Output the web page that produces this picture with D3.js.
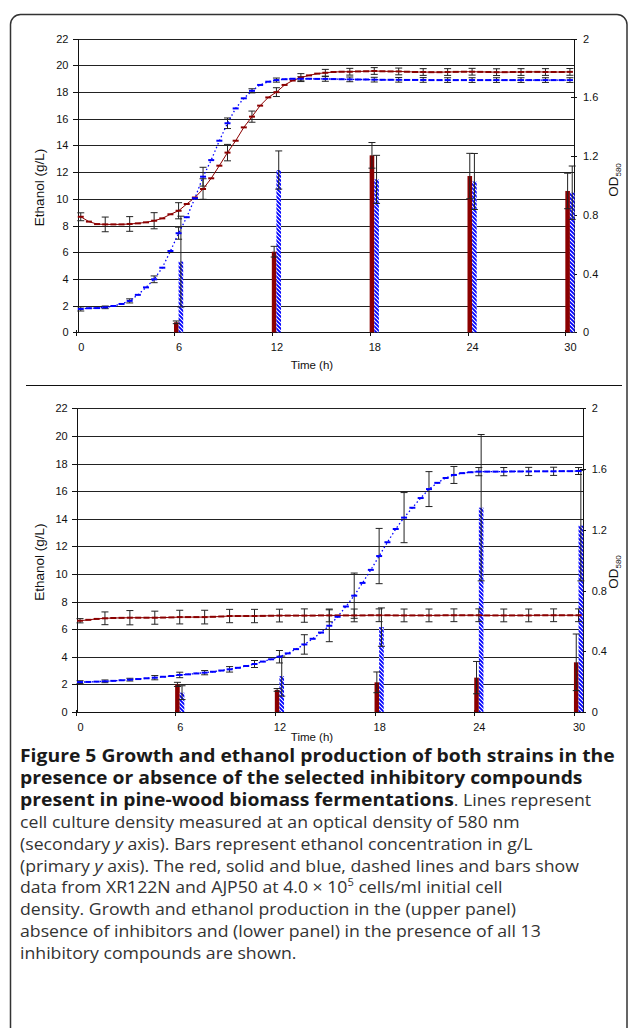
<!DOCTYPE html>
<meta charset="utf-8">
<style>
  body { margin: 0; background: #fff; }
  .axis text { font-family: "Liberation Sans", Arial, sans-serif; font-size: 11px; fill: #111; }
  .axis path, .axis line { stroke: #111; shape-rendering: crispEdges; }
  .grid line { stroke: #222; shape-rendering: crispEdges; }
  .grid path { display: none; }
  .title { font-family: "Liberation Sans", Arial, sans-serif; fill: #111; }
  .caption { font-family: "Open Sans", sans-serif; fill: #333; }
</style>

<svg id="fig" width="628" height="1028"></svg>

<script src="https://cdnjs.cloudflare.com/ajax/libs/d3/7.8.5/d3.min.js"></script>
<script>
  // sampling times of the OD curves (h)
  var hours = [0,0.5,1,1.5,2,2.5,3,3.5,4,4.5,5,5.5,6,6.5,7,7.5,8,8.5,9,9.5,10,10.5,11,11.5,12,12.5,13,13.5,14,14.5,
               15,15.5,16,16.5,17,17.5,18,18.5,19,19.5,20,20.5,21,21.5,22,22.5,23,23.5,24,24.5,25,25.5,26,26.5,27,27.5,
               28,28.5,29,29.5,30];
  // times carrying error bars on the OD curves
  var errHours = [0,1.5,3,4.5,6,7.5,9,10.5,12,13.5,15,16.5,18,19.5,21,22.5,24,25.5,27,28.5,30];
  // ethanol sampling times (h)
  var barHours = [6,12,18,24,30];
  var xTicks = [0,6,12,18,24,30];

  // upper panel: no inhibitors
  var upperRedOD = [0.787,0.754,0.737,0.735,0.735,0.735,0.738,0.742,0.749,0.760,0.776,0.804,0.828,0.874,0.918,0.976,
    1.049,1.135,1.224,1.305,1.396,1.469,1.544,1.600,1.636,1.685,1.715,1.735,1.750,1.762,1.768,1.773,1.775,1.775,1.777,
    1.778,1.780,1.778,1.777,1.777,1.775,1.773,1.773,1.772,1.772,1.773,1.774,1.775,1.775,1.774,1.773,1.772,1.772,1.773,
    1.773,1.774,1.774,1.773,1.773,1.773,1.774];
  var upperBlueOD = [0.159,0.164,0.165,0.170,0.179,0.193,0.214,0.255,0.306,0.361,0.440,0.554,0.675,0.784,0.913,1.060,
    1.173,1.305,1.424,1.525,1.594,1.645,1.685,1.707,1.718,1.724,1.727,1.727,1.727,1.726,1.726,1.725,1.724,1.723,1.722,
    1.722,1.721,1.720,1.720,1.720,1.719,1.719,1.719,1.718,1.718,1.718,1.718,1.718,1.718,1.718,1.718,1.718,1.718,1.718,
    1.718,1.718,1.718,1.718,1.718,1.718,1.718];
  var upperRedErr = [0.027,0.05,0.05,0.055,0.055,0.07,0.056,0.038,0.03,0.027,0.023,0.023,0.023,0.023,0.023,0.023,0.023,
    0.023,0.023,0.023,0.023];
  var upperBlueErr = [0.014,0.009,0.014,0.023,0.041,0.064,0.036,0.014,0.014,0.014,0.016,0.016,0.016,0.016,0.016,0.016,
    0.016,0.016,0.016,0.016,0.016];
  var upperRedEtoh = [0.75,6.04,13.26,11.71,10.59];
  var upperRedEtohErr = [0.1,0.4,0.96,1.7,1.33];
  var upperBlueEtoh = [5.3,12.16,11.46,11.3,10.46];
  var upperBlueEtohErr = [3.4,1.43,1.8,2.1,2.0];

  // lower panel: all 13 inhibitors
  var lowerRedOD = [0.601,0.607,0.613,0.617,0.619,0.620,0.621,0.621,0.621,0.621,0.622,0.623,0.625,0.625,0.625,0.625,
    0.627,0.629,0.632,0.632,0.632,0.632,0.633,0.634,0.635,0.635,0.635,0.635,0.635,0.636,0.636,0.636,0.636,0.636,0.636,
    0.637,0.637,0.637,0.636,0.636,0.636,0.636,0.636,0.636,0.637,0.637,0.637,0.637,0.637,0.636,0.636,0.636,0.636,0.636,
    0.636,0.637,0.637,0.637,0.637,0.637,0.637];
  var lowerBlueOD = [0.197,0.198,0.200,0.202,0.205,0.209,0.213,0.217,0.222,0.226,0.232,0.237,0.244,0.248,0.254,0.259,
    0.265,0.273,0.281,0.291,0.303,0.316,0.332,0.347,0.364,0.386,0.414,0.445,0.482,0.523,0.568,0.627,0.695,0.766,0.850,
    0.936,1.027,1.118,1.205,1.280,1.345,1.409,1.468,1.509,1.541,1.561,1.573,1.579,1.583,1.583,1.583,1.583,1.584,1.584,
    1.584,1.585,1.585,1.585,1.586,1.586,1.587];
  var lowerRedErr = [0.014,0.042,0.047,0.043,0.045,0.045,0.044,0.044,0.042,0.044,0.042,0.042,0.042,0.042,0.042,0.042,
    0.042,0.042,0.042,0.042,0.042];
  var lowerBlueErr = [0.009,0.009,0.009,0.014,0.018,0.014,0.018,0.023,0.041,0.064,0.105,0.149,0.182,0.165,0.115,0.056,
    0.027,0.027,0.027,0.027,0.023];
  var lowerRedEtoh = [2.0,1.6,2.15,2.49,3.6];
  var lowerRedEtohErr = [0.15,0.1,0.75,1.17,2.05];
  var lowerBlueEtoh = [1.4,2.6,6.15,14.8,13.5];
  var lowerBlueEtohErr = [0.5,1.45,1.39,5.3,4.0];

  var captionLines = [
    [["b","Figure 5 Growth and ethanol production of both strains in the"]],
    [["b","presence or absence of the selected inhibitory compounds"]],
    [["b","present in pine-wood biomass fermentations"],["n",". Lines represent"]],
    [["n","cell culture density measured at an optical density of 580 nm"]],
    [["n","(secondary "],["i","y"],["n"," axis). Bars represent ethanol concentration in g/L"]],
    [["n","(primary "],["i","y"],["n"," axis). The red, solid and blue, dashed lines and bars show"]],
    [["n","data from XR122N and AJP50 at 4.0 \u00d7 10"],["sup","5"],["n"," cells/ml initial cell"]],
    [["n","density. Growth and ethanol production in the (upper panel)"]],
    [["n","absence of inhibitors and (lower panel) in the presence of all 13"]],
    [["n","inhibitory compounds are shown."]]
  ];

  var RED = "#8b0000", BLUE = "#0000ff";
  var svg = d3.select("#fig");

  // hatch for the AJP50 bars
  var pat = svg.append("defs").append("pattern")
    .attr("id", "hatch").attr("patternUnits", "userSpaceOnUse")
    .attr("width", 4).attr("height", 4);
  pat.append("rect").attr("width", 4).attr("height", 4).attr("fill", "#fff");
  pat.append("path").attr("d", "M-1,-1L5,5M-1,3L1,5M3,-1L5,1")
    .attr("stroke", BLUE).attr("stroke-width", 1.8);

  // outer frame and separator
  svg.append("rect").attr("x", 10.5).attr("y", 14.5).attr("width", 616.5).attr("height", 1100)
    .attr("rx", 10).attr("fill", "none").attr("stroke", "#333").attr("stroke-width", 1.5);
  svg.append("line").attr("x1", 26).attr("x2", 622).attr("y1", 385.5).attr("y2", 385.5)
    .attr("stroke", "#111");

  function drawPanel(p) {
    var g = svg.append("g");
    var x = d3.scaleLinear().domain([-0.2, 30.25]).range([p.left, p.right]);
    var yL = d3.scaleLinear().domain([0, 22]).range([p.bottom, p.top]);
    var yR = d3.scaleLinear().domain([0, 2]).range([p.bottom, p.top]);
    var w = p.right - p.left;

    // gridlines
    g.append("g").attr("class", "grid")
      .attr("transform", "translate(" + p.left + ",0)")
      .call(d3.axisLeft(yL).tickValues(d3.range(2, 23, 2)).tickSize(-w).tickFormat(""));

    // left axis
    g.append("g").attr("class", "axis")
      .attr("transform", "translate(" + p.left + ",0)")
      .call(d3.axisLeft(yL).tickValues(d3.range(0, 23, 2)).tickSize(5).tickPadding(4).tickSizeOuter(0));

    // right axis, ticks crossing the line
    var ra = g.append("g").attr("class", "axis")
      .attr("transform", "translate(" + p.right + ",0)")
      .call(d3.axisRight(yR).tickValues([0, 0.4, 0.8, 1.2, 1.6, 2]).tickSize(3).tickPadding(6)
        .tickSizeOuter(0).tickFormat(d3.format("~g")));
    ra.selectAll(".tick line").attr("x1", -3);

    // bottom axis: labels at sampling times, tick marks at left edge of each bar pair
    var xa = g.append("g").attr("class", "axis")
      .attr("transform", "translate(0," + p.bottom + ")")
      .call(d3.axisBottom(x).tickValues(xTicks).tickSize(0).tickPadding(11).tickSizeOuter(0));
    xa.select(".domain").attr("d", "M" + p.left + ",0.5H" + p.right);
    xa.selectAll(".tick").append("line").attr("x1", -4.5).attr("x2", -4.5).attr("y1", -2).attr("y2", 4);

    // bars
    var bw = 4.6;
    g.selectAll(".rbar").data(barHours).enter().append("rect")
      .attr("x", function(d) { return x(d) - bw; })
      .attr("width", bw)
      .attr("y", function(d, i) { return yL(p.redEtoh[i]); })
      .attr("height", function(d, i) { return p.bottom - yL(p.redEtoh[i]); })
      .attr("fill", RED);
    g.selectAll(".bbar").data(barHours).enter().append("rect")
      .attr("x", function(d) { return x(d); })
      .attr("width", bw)
      .attr("y", function(d, i) { return yL(p.blueEtoh[i]); })
      .attr("height", function(d, i) { return p.bottom - yL(p.blueEtoh[i]); })
      .attr("fill", "url(#hatch)");

    function errBars(xs, ys, es, y) {
      var eg = g.append("g").attr("stroke", "#222").attr("stroke-width", 1);
      xs.forEach(function(xv, i) {
        var top = y(ys[i] + es[i]), bot = y(Math.max(0, ys[i] - es[i]));
        eg.append("line").attr("x1", xv).attr("x2", xv).attr("y1", top).attr("y2", bot);
        eg.append("line").attr("x1", xv - 3.5).attr("x2", xv + 3.5).attr("y1", top).attr("y2", top);
        eg.append("line").attr("x1", xv - 3.5).attr("x2", xv + 3.5).attr("y1", bot).attr("y2", bot);
      });
    }
    errBars(barHours.map(function(d) { return x(d) - bw / 2; }), p.redEtoh, p.redEtohErr, yL);
    errBars(barHours.map(function(d) { return x(d) + bw / 2; }), p.blueEtoh, p.blueEtohErr, yL);

    function valAt(series, h) { return series[hours.indexOf(h)]; }
    errBars(errHours.map(x), errHours.map(function(h) { return valAt(p.redOD, h); }), p.redErr, yR);
    errBars(errHours.map(x), errHours.map(function(h) { return valAt(p.blueOD, h); }), p.blueErr, yR);

    var line = d3.line().x(function(d) { return x(d[0]); }).y(function(d) { return yR(d[1]); });
    var redPts = d3.zip(hours, p.redOD), bluePts = d3.zip(hours, p.blueOD);

    g.append("path").datum(redPts).attr("d", line)
      .attr("fill", "none").attr("stroke", RED).attr("stroke-width", 1);
    g.append("path").datum(bluePts).attr("d", line)
      .attr("fill", "none").attr("stroke", BLUE).attr("stroke-width", 1.3).attr("stroke-dasharray", "1.5,2.5");

    // dash markers
    function markers(pts, col) {
      g.append("g").selectAll("line").data(pts).enter().append("line")
        .attr("x1", function(d) { return x(d[0]) - 3; })
        .attr("x2", function(d) { return x(d[0]) + 3; })
        .attr("y1", function(d) { return yR(d[1]); })
        .attr("y2", function(d) { return yR(d[1]); })
        .attr("stroke", col).attr("stroke-width", 2);
    }
    markers(redPts, RED);
    markers(bluePts, BLUE);

    // axis titles
    svg.append("text").attr("class", "title").attr("font-size", 13.5)
      .attr("text-anchor", "middle")
      .attr("transform", "translate(" + 44 + "," + ((p.top + p.bottom) / 2 + 2) + ") rotate(-90)")
      .text("Ethanol (g/L)");
    var od = svg.append("text").attr("class", "title").attr("font-size", 13.5)
      .attr("text-anchor", "middle")
      .attr("transform", "translate(" + 618 + "," + p.odY + ") rotate(-90)");
    od.append("tspan").text("OD");
    od.append("tspan").attr("font-size", 8).attr("dy", 3).text("580");
    svg.append("text").attr("class", "title").attr("font-size", 11.5)
      .attr("text-anchor", "middle")
      .attr("x", 312).attr("y", p.timeY)
      .text("Time (h)");
  }

  drawPanel({
    top: 38.7, bottom: 332.3, left: 77.5, right: 574, odY: 180, timeY: 369,
    redOD: upperRedOD, blueOD: upperBlueOD, redErr: upperRedErr, blueErr: upperBlueErr,
    redEtoh: upperRedEtoh, redEtohErr: upperRedEtohErr, blueEtoh: upperBlueEtoh, blueEtohErr: upperBlueEtohErr
  });
  drawPanel({
    top: 408.3, bottom: 712, left: 76.7, right: 582.7, odY: 572, timeY: 740.5,
    redOD: lowerRedOD, blueOD: lowerBlueOD, redErr: lowerRedErr, blueErr: lowerBlueErr,
    redEtoh: lowerRedEtoh, redEtohErr: lowerRedEtohErr, blueEtoh: lowerBlueEtoh, blueEtohErr: lowerBlueEtohErr
  });

  // caption: one text per line
  var capG = svg.append("g").attr("class", "caption");
  var capTexts = captionLines.map(function(parts, li) {
    var txt = capG.append("text").attr("x", 20).attr("y", 762 + li * 21.9);
    parts.forEach(function(pt) {
      var t = txt.append("tspan").attr("class", pt[0] === "b" ? "cb" : (pt[0] === "sup" ? "cs" : "cn")).text(pt[1]);
      if (pt[0] === "b") t.attr("font-weight", "bold").style("fill", "#1a1a1a");
      if (pt[0] === "i") t.attr("font-style", "italic");
      if (pt[0] === "sup") t.attr("dy", -7);
      if (pt[0] === "n" && li === 6 && pt[1].indexOf("cells") >= 0) t.attr("dy", 7);
    });
    return txt;
  });
  // sizes that give the reference widths of the first bold line and the fourth line
  capG.selectAll("tspan").attr("font-size", 16);
  capG.selectAll(".cs").attr("font-size", 10);
  var fb = 16 * 595 / capTexts[0].node().getComputedTextLength();
  var fn = 16 * 500 / capTexts[3].node().getComputedTextLength();
  capG.selectAll(".cb").attr("font-size", fb);
  capG.selectAll(".cn").attr("font-size", fn);
  var widths = capTexts.map(function(t) { return t.node().getComputedTextLength(); });
  // slightly smaller glyphs, stretched back to the same line widths
  var k = 0.9;
  capG.selectAll(".cb").attr("font-size", fb * k);
  capG.selectAll(".cn").attr("font-size", fn * k);
  capTexts.forEach(function(t, i) {
    t.attr("textLength", widths[i]).attr("lengthAdjust", "spacingAndGlyphs");
  });
</script>
